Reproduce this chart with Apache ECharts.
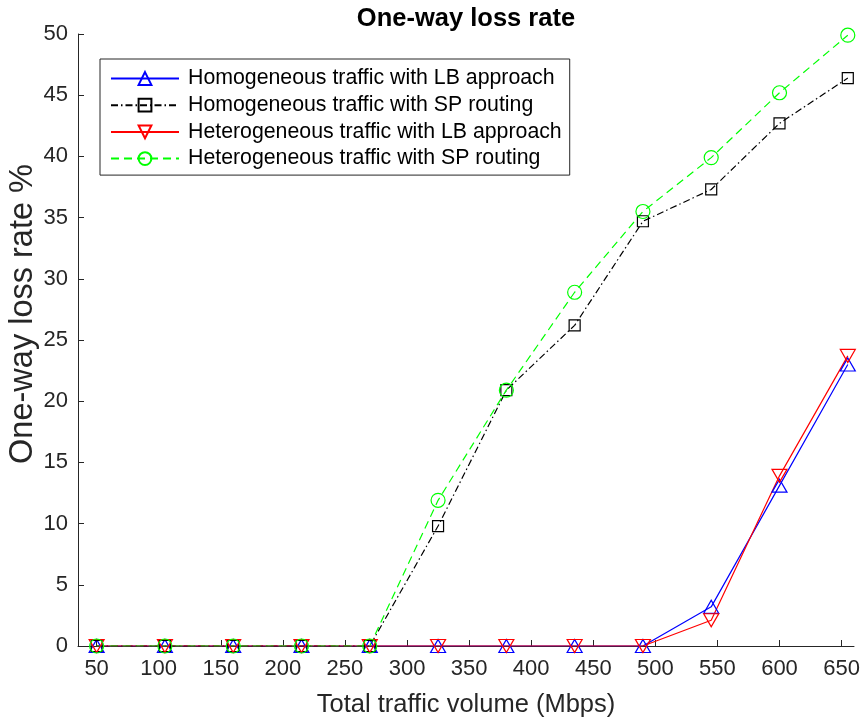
<!DOCTYPE html>
<html>
<head>
<meta charset="utf-8">
<script src="https://cdn.jsdelivr.net/npm/echarts@6/dist/echarts.min.js"></script>
<style>
  html, body { margin: 0; padding: 0; background: #fff; }
  #chart { width: 865px; height: 719px; }
</style>
</head>
<body>
<div id="chart"></div>
<script>
// x positions (Mbps)
const trafficVolume = [50, 105, 160, 215, 270, 325, 380, 435, 490, 545, 600, 655]
const xTicks = [50, 100, 150, 200, 250, 300, 350, 400, 450, 500, 550, 600, 650]

// one-way loss rate (%)
const homoLB = [0, 0, 0, 0, 0, 0, 0, 0, 0, 3.2, 13.1, 23.0]
const homoSP = [0, 0, 0, 0, 0, 9.8, 20.9, 26.2, 34.7, 37.3, 42.7, 46.4]
const heteroLB = [0, 0, 0, 0, 0, 0, 0, 0, 0, 2.1, 13.9, 23.7]
const heteroSP = [0, 0, 0, 0, 0, 11.9, 20.9, 28.9, 35.5, 39.9, 45.2, 49.9]

const seriesNames = [
  'Homogeneous traffic with LB approach',
  'Homogeneous traffic with SP routing',
  'Heterogeneous traffic with LB approach',
  'Heterogeneous traffic with SP routing'
]

const AXIS_COLOR = '#262626'
const FONT = 'Liberation Sans, Arial, Helvetica, sans-serif'

const toPairs = vals => trafficVolume.map((x, i) => [x, vals[i]])

const makeSeries = (name, vals, color, lineType, symbol, size, rotate) => ({
  name,
  type: 'line',
  data: toPairs(vals),
  symbol,
  symbolSize: size,
  symbolRotate: rotate || 0,
  showAllSymbol: true,
  animation: false,
  lineStyle: { color, width: 1.2, type: lineType },
  itemStyle: { color: 'rgba(0,0,0,0)', borderColor: color, borderWidth: 1.2 }
})

const chart = echarts.init(document.getElementById('chart'))

chart.setOption({
  animation: false,
  title: {
    text: 'One-way loss rate',
    left: 466,
    textAlign: 'center',
    top: 6,
    padding: 0,
    textStyle: { fontFamily: FONT, fontSize: 25.5, fontWeight: 'bold', color: '#000' }
  },
  grid: { left: 78, right: 11, top: 34, bottom: 73, containLabel: false, outerBoundsMode: 'none' },
  legend: {
    orient: 'vertical',
    left: 100,
    top: 59,
    padding: [9, 8, 6, 10],
    itemWidth: 68,
    itemHeight: 16,
    itemGap: 5.7,
    backgroundColor: '#fff',
    borderColor: AXIS_COLOR,
    borderWidth: 1,
    textStyle: { fontFamily: FONT, fontSize: 21.3, color: '#000', padding: [0, 0, 0, 4] },
    data: seriesNames
  },
  xAxis: {
    type: 'value',
    min: 35,
    max: 660,
    name: 'Total traffic volume (Mbps)',
    nameLocation: 'middle',
    nameGap: 46,
    nameMoveOverlap: false,
    nameTextStyle: { fontFamily: FONT, fontSize: 25.5, color: AXIS_COLOR },
    axisLine: { show: true, onZero: false, lineStyle: { color: AXIS_COLOR, width: 1 } },
    axisTick: { show: true, inside: true, length: 6, customValues: xTicks, lineStyle: { color: AXIS_COLOR } },
    axisLabel: { customValues: xTicks, margin: 12, fontFamily: FONT, fontSize: 22, color: AXIS_COLOR },
    splitLine: { show: false }
  },
  yAxis: {
    type: 'value',
    min: 0,
    max: 50,
    interval: 5,
    name: 'One-way loss rate %',
    nameLocation: 'middle',
    nameGap: 38,
    nameMoveOverlap: false,
    nameTextStyle: { fontFamily: FONT, fontSize: 32.5, color: AXIS_COLOR, padding: [0, 0, 0, 52] },
    axisLine: { show: true, lineStyle: { color: AXIS_COLOR, width: 1 } },
    axisTick: { show: true, inside: true, length: 6, lineStyle: { color: AXIS_COLOR } },
    axisLabel: { margin: 10, fontFamily: FONT, fontSize: 22, color: AXIS_COLOR },
    splitLine: { show: false }
  },
  series: [
    makeSeries(seriesNames[0], homoLB, '#0000ff', 'solid', 'triangle', [15, 13]),
    makeSeries(seriesNames[1], homoSP, '#000000', [7, 3, 1.5, 3], 'rect', 11),
    makeSeries(seriesNames[2], heteroLB, '#ff0000', 'solid', 'triangle', [15, 13], 180),
    makeSeries(seriesNames[3], heteroSP, '#00ff00', [8, 5], 'circle', 14)
  ]
})
</script>
</body>
</html>
